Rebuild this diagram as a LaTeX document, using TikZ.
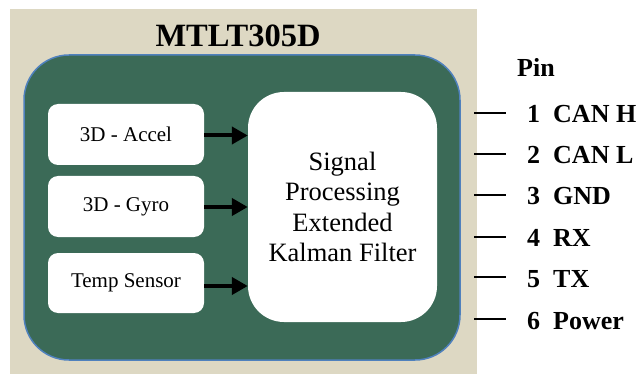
\documentclass[tikz,border=0pt]{standalone}
\usepackage{fontspec}
\setmainfont{Liberation Serif}
\usetikzlibrary{arrows.meta,calc}
\definecolor{beige}{RGB}{221,216,195}
\definecolor{boardgreen}{RGB}{59,106,87}
\definecolor{edgeblue}{RGB}{79,129,189}
\tikzset{
  px/.style={x=1pt,y=-1pt},
  smallbox/.style={fill=white,draw=none,rounded corners=10pt,minimum width=156pt,minimum height=61pt,inner sep=0pt,
     font=\fontsize{21}{25}\selectfont},
  bigbox/.style={fill=white,draw=none,rounded corners=36pt,minimum width=189pt,minimum height=230pt,inner sep=0pt,
     align=center,font=\fontsize{26.5}{30.5}\selectfont},
  feed/.style={line width=4pt,-{Triangle[length=16pt,width=17pt]}},
  pinline/.style={line width=2.5pt},
  pintext/.style={anchor=base west,inner sep=0pt,font=\fontsize{26}{30}\selectfont\bfseries},
}
\begin{document}
\begin{tikzpicture}[px]
\useasboundingbox (0,0) rectangle (637,374);
\fill[beige] (10,9) rectangle (477,374);
\node[font=\fontsize{32.5}{38}\selectfont\bfseries] (title) at (238,36) {MTLT305D};
\node[fill=boardgreen,draw=edgeblue,line width=1.5pt,rounded corners=45pt,minimum width=436pt,minimum height=305pt,inner sep=0pt] (board) at (242,207.5) {};
\node[smallbox] (accel) at (126,134.5) {3D - Accel};
\node[smallbox] (gyro) at (126,206.5) {3D - Gyro};
\node[smallbox,minimum height=60pt] (temp) at (126,283) {Temp Sensor};
\node[bigbox] (dsp) at (342.5,207) {Signal\\Processing\\Extended\\Kalman Filter};
\coordinate (a1) at (accel.east |- 0,135.5);
\coordinate (a2) at (gyro.east |- 0,207);
\coordinate (a3) at (temp.east |- 0,286);
\draw[feed] (a1) -- (a1 -| dsp.west);
\draw[feed] (a2) -- (a2 -| dsp.west);
\draw[feed] (a3) -- (a3 -| dsp.west);
\node[pintext] (pin) at (517,77) {Pin};
\foreach \i/\y/\lab in {1/113/CAN H,2/154/CAN L,3/195/GND,4/237/RX,5/277/TX,6/319/Power}{
  \coordinate (l\i a) at (474,\y);
  \coordinate (l\i b) at (506,\y);
  \draw[pinline] (l\i a) -- (l\i b);
  \node[pintext] (n\i) at (527,\y+10) {\i};
  \node[pintext] (t\i) at (553,\y+10) {\lab};
}
\end{tikzpicture}
\end{document}
